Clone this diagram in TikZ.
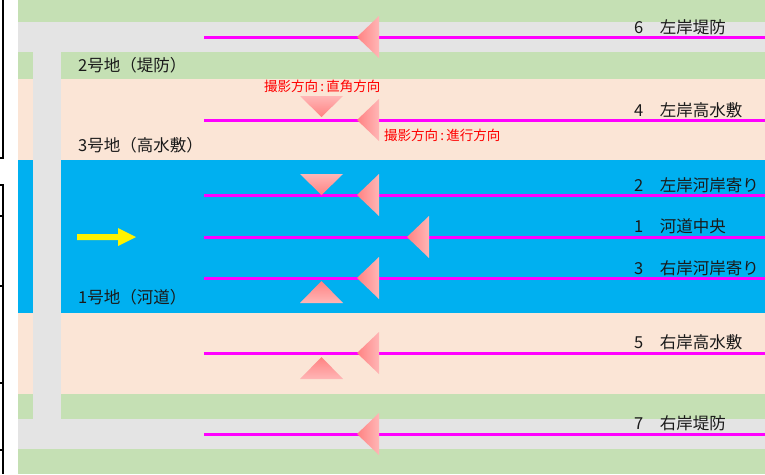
\documentclass[tikz,border=0pt]{standalone}
\usepackage{fontspec}
\setmainfont{Noto Sans CJK JP}
\begin{document}
\begin{tikzpicture}[x=1pt,y=-1pt]
\definecolor{bgreen}{HTML}{C5E0B4}
\definecolor{bgray}{HTML}{E4E4E4}
\definecolor{bpeach}{HTML}{FBE5D6}
\definecolor{bblue}{HTML}{00B0F0}
\definecolor{lmag}{HTML}{FF00FF}
\definecolor{tridark}{HTML}{FF8282}
\definecolor{trilight}{HTML}{FFB6B6}
\definecolor{txt}{HTML}{1A1A1A}
\tikzset{
  route/.style={draw=lmag, line width=3pt},
  area/.style={anchor=west, text=txt, inner sep=0pt, font=\fontsize{16.5}{18}\selectfont},
  pointlabel/.style={anchor=west, text=txt, inner sep=0pt, font=\fontsize{16.5}{18}\selectfont},
  dirlabel/.style={anchor=west, text=red, inner sep=0pt, font=\fontsize{13.5}{14}\selectfont},
  tborder/.style={draw=black, line width=1.6pt}
}
\useasboundingbox (0,0) rectangle (765,474);
\fill[white] (0,0) rectangle (765,474);
% bands
\fill[bgreen] (18,0) rectangle (765,22);
\fill[bgray] (18,22) rectangle (765,52);
\fill[bgreen] (18,52) rectangle (765,79);
\fill[bpeach] (18,79) rectangle (765,160);
\fill[bblue] (18,160) rectangle (765,313);
\fill[bpeach] (18,313) rectangle (765,394);
\fill[bgreen] (18,394) rectangle (765,419);
\fill[bgray] (18,419) rectangle (765,449);
\fill[bgreen] (18,449) rectangle (765,474);
\fill[bgray] (33,22) rectangle (61,449);
% cropped table borders at left edge
\draw[tborder] (3,0) -- (3,158) -- (0,158);
\draw[tborder] (0,185) -- (3,185) -- (3,474);
\foreach \yy in {216,286,383,450} \draw[tborder] (0,\yy) -- (3,\yy);
% routes
\foreach \nm/\yy in {r6/37,r4/120,r2/195,r1/237,r3/278,r5/353,r7/434}{
  \coordinate (\nm a) at (204,\yy);
  \coordinate (\nm b) at (765,\yy);
  \draw[route] (\nm a) -- (\nm b);
}
% left-pointing triangles (travel direction)
\foreach \tx/\yy in {357/37,357/120,357/195,407/237,357/278,357/353,357/434}{
  \shade[left color=tridark, right color=trilight] (\tx,\yy) -- (\tx+22,\yy-21) -- (\tx+22,\yy+21) -- cycle;
}
% down-pointing triangles
\foreach \ty in {117,195}{
  \shade[top color=trilight, bottom color=tridark] (300,\ty-21) -- (343,\ty-21) -- (321.5,\ty) -- cycle;
}
% up-pointing triangles
\foreach \ty in {281,357}{
  \shade[top color=tridark, bottom color=trilight] (321.5,\ty) -- (343,\ty+22) -- (300,\ty+22) -- cycle;
}
% yellow flow arrow
\fill[yellow] (77,234) -- (118,234) -- (118,228) -- (136,237) -- (118,246) -- (118,240) -- (77,240) -- cycle;
% area labels
\node[area] (a2) at (78,65) {2号地（堤防）};
\node[area] (a3) at (78,145) {3号地（高水敷）};
\node[area] (a1) at (78,297) {1号地（河道）};
% direction labels
\node[dirlabel] (d1) at (264,86) {撮影方向\,:\,直角方向};
\node[dirlabel] (d2) at (384,135) {撮影方向\,:\,進行方向};
% point labels
\node[pointlabel] (p6) at (634,27) {6　左岸堤防};
\node[pointlabel] (p4) at (634,110) {4　左岸高水敷};
\node[pointlabel] (p2) at (634,185) {2　左岸河岸寄り};
\node[pointlabel] (p1) at (634,226) {1　河道中央};
\node[pointlabel] (p3) at (634,268) {3　右岸河岸寄り};
\node[pointlabel] (p5) at (634,342) {5　右岸高水敷};
\node[pointlabel] (p7) at (634,423) {7　右岸堤防};
\end{tikzpicture}
\end{document}
